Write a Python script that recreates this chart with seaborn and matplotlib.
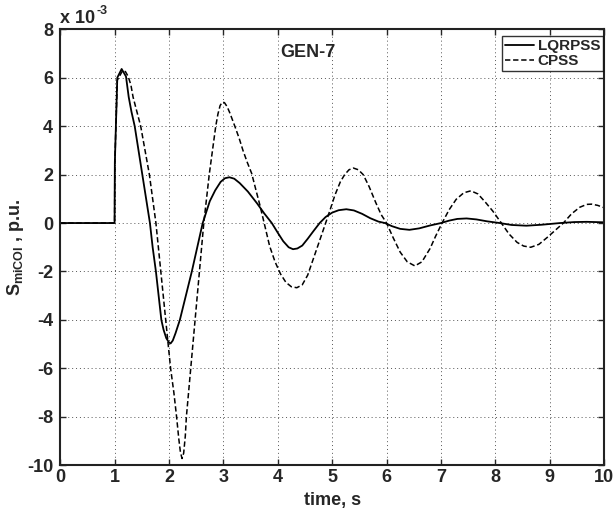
import matplotlib
matplotlib.use("Agg")
import matplotlib.pyplot as plt
import pandas as pd
import seaborn as sns

# valores (unidades de 1e-3 p.u.)
t_lqr = [0.0, 1.0, 1.005, 1.05, 1.13, 1.21, 1.26, 1.31, 1.37, 1.44, 1.51, 1.58,
         1.65, 1.70, 1.76, 1.81, 1.86, 1.90, 1.95, 2.00, 2.03, 2.07, 2.12, 2.20,
         2.31, 2.42, 2.51, 2.62, 2.75, 2.85, 2.95, 3.03, 3.11, 3.20, 3.30, 3.45,
         3.62, 3.75, 3.89, 4.00, 4.10, 4.20, 4.28, 4.36, 4.45, 4.55, 4.65, 4.77,
         4.88, 5.00, 5.12, 5.26, 5.40, 5.55, 5.70, 5.85, 5.97, 6.10, 6.25, 6.42,
         6.60, 6.80, 7.00, 7.15, 7.30, 7.47, 7.65, 7.85, 8.08, 8.30, 8.57, 8.85,
         9.19, 9.45, 9.68, 10.0]
s_lqr = [0.0, 0.0, 2.5, 6.0, 6.36, 6.05, 5.2, 4.6, 4.0, 3.0, 2.0, 1.0,
         0.0, -1.0, -2.0, -3.0, -4.0, -4.4, -4.75, -4.93, -4.97, -4.85, -4.55, -4.0,
         -3.0, -2.0, -1.1, 0.0, 0.9, 1.35, 1.7, 1.85, 1.89, 1.83, 1.65, 1.3,
         0.81, 0.4, 0.0, -0.4, -0.75, -1.0, -1.08, -1.05, -0.93, -0.65, -0.35, 0.0,
         0.25, 0.43, 0.53, 0.57, 0.52, 0.38, 0.2, 0.06, 0.0, -0.13, -0.24, -0.28,
         -0.22, -0.1, 0.0, 0.1, 0.17, 0.19, 0.15, 0.07, 0.0, -0.08, -0.11, -0.07,
         0.0, 0.04, 0.05, 0.03]

t_cpss = [0.0, 1.0, 1.005, 1.05, 1.15, 1.20, 1.25, 1.30, 1.34, 1.41, 1.48, 1.56,
          1.64, 1.70, 1.76, 1.85, 1.94, 2.03, 2.09, 2.14, 2.18, 2.21, 2.24, 2.27,
          2.30, 2.32, 2.40, 2.48, 2.56, 2.64, 2.69, 2.74, 2.80, 2.86, 2.90, 2.94,
          2.98, 3.02, 3.07, 3.12, 3.21, 3.29, 3.36, 3.44, 3.52, 3.60, 3.67, 3.75,
          3.85, 3.95, 4.05, 4.15, 4.25, 4.35, 4.45, 4.55, 4.65, 4.75, 4.88, 4.97,
          5.05, 5.15, 5.23, 5.31, 5.39, 5.48, 5.57, 5.68, 5.80, 5.90, 6.00, 6.12,
          6.25, 6.38, 6.52, 6.65, 6.80, 6.90, 7.02, 7.15, 7.28, 7.42, 7.55, 7.68,
          7.82, 7.95, 8.11, 8.25, 8.40, 8.52, 8.65, 8.80, 8.95, 9.10, 9.25, 9.40,
          9.55, 9.68, 9.77, 9.88, 10.0]
s_cpss = [0.0, 0.0, 2.5, 5.9, 6.3, 6.25, 6.05, 5.7, 5.2, 4.6, 4.0, 3.0,
          2.0, 1.0, 0.0, -2.0, -4.0, -6.0, -7.0, -8.0, -8.9, -9.45, -9.72, -9.5,
          -8.8, -8.0, -6.0, -4.0, -2.0, 0.0, 1.0, 2.0, 3.0, 4.0, 4.5, 4.85,
          4.99, 4.97, 4.8, 4.54, 4.0, 3.5, 3.0, 2.5, 2.05, 1.35, 0.75, 0.0,
          -0.95, -1.6, -2.1, -2.45, -2.63, -2.67, -2.55, -2.15, -1.5, -0.85, 0.0, 0.6,
          1.15, 1.7, 2.0, 2.2, 2.27, 2.2, 2.0, 1.5, 0.85, 0.35, 0.0, -0.6,
          -1.2, -1.6, -1.77, -1.6, -1.05, -0.55, 0.0, 0.55, 0.98, 1.25, 1.33, 1.2,
          0.85, 0.5, 0.0, -0.45, -0.8, -0.95, -1.0, -0.88, -0.6, -0.3, 0.0, 0.38,
          0.65, 0.77, 0.78, 0.73, 0.63]

x_ticks = list(range(0, 11))
y_ticks = list(range(-10, 9, 2))

df_lqr = pd.DataFrame({'t': t_lqr, 's': s_lqr})
df_cpss = pd.DataFrame({'t': t_cpss, 's': s_cpss})

sns.set_style('ticks')
plt.rcParams['font.family'] = ['Liberation Sans', 'DejaVu Sans']
plt.rcParams['font.weight'] = 'bold'
plt.rcParams['axes.unicode_minus'] = False
plt.rcParams['mathtext.fontset'] = 'custom'
plt.rcParams['mathtext.bf'] = 'Liberation Sans:bold'
plt.rcParams['mathtext.rm'] = 'Liberation Sans:bold'

fig = plt.figure(figsize=(6.14, 5.13), dpi=100)
ax = fig.add_axes([0.098, 0.093, 0.886, 0.850])

sns.lineplot(data=df_lqr, x='t', y='s', ax=ax, color='black', lw=1.3,
             estimator=None, sort=False, label='LQRPSS')
sns.lineplot(data=df_cpss, x='t', y='s', ax=ax, color='black', lw=1.1,
             estimator=None, sort=False, label='CPSS')
ax.lines[1].set_linestyle((0, (3.5, 1.8)))

ax.set_xlim(0, 10)
ax.set_ylim(-10, 8)
ax.set_xticks(x_ticks)
ax.set_yticks(y_ticks)
ax.tick_params(direction='in', length=4, width=1, top=True, right=True,
               labelsize=13)
ax.tick_params(axis='x', pad=3)
ax.tick_params(axis='y', pad=5)
for lab in ax.get_xticklabels() + ax.get_yticklabels():
    lab.set_fontweight('bold')
ax.grid(True, linestyle=(0, (1, 3)), color='#555555', lw=0.7)
for sp in ax.spines.values():
    sp.set_linewidth(1.5)
    sp.set_color('#222222')

ax.set_xlabel('time, s', fontsize=13, fontweight='bold', labelpad=4)
ax.set_ylabel(r'S$_{\mathbf{miCOI}}$ , p.u.', fontsize=13, fontweight='bold', labelpad=1)
ax.text(0.0, 1.006, 'x 10', transform=ax.transAxes,
        fontsize=13, fontweight='bold', ha='left', va='bottom')
ax.annotate('-3', xy=(0.0, 1.0), xycoords='axes fraction', xytext=(26, 9),
            textcoords='offset points', fontsize=9, fontweight='bold',
            ha='left', va='bottom')
ax.text(4.55, 7.05, 'GEN-7', fontsize=13, fontweight='bold', ha='center', va='center')

leg = ax.legend(loc='upper right', bbox_to_anchor=(0.998, 0.984), frameon=True,
                fancybox=False, fontsize=11, handlelength=1.9, handletextpad=0.2,
                borderpad=0.2, labelspacing=0.05, borderaxespad=0.0)
leg.get_frame().set_edgecolor('black')
leg.get_frame().set_linewidth(1.0)
for txt in leg.get_texts():
    txt.set_fontweight('bold')

fig.savefig('out.png', dpi=100)
